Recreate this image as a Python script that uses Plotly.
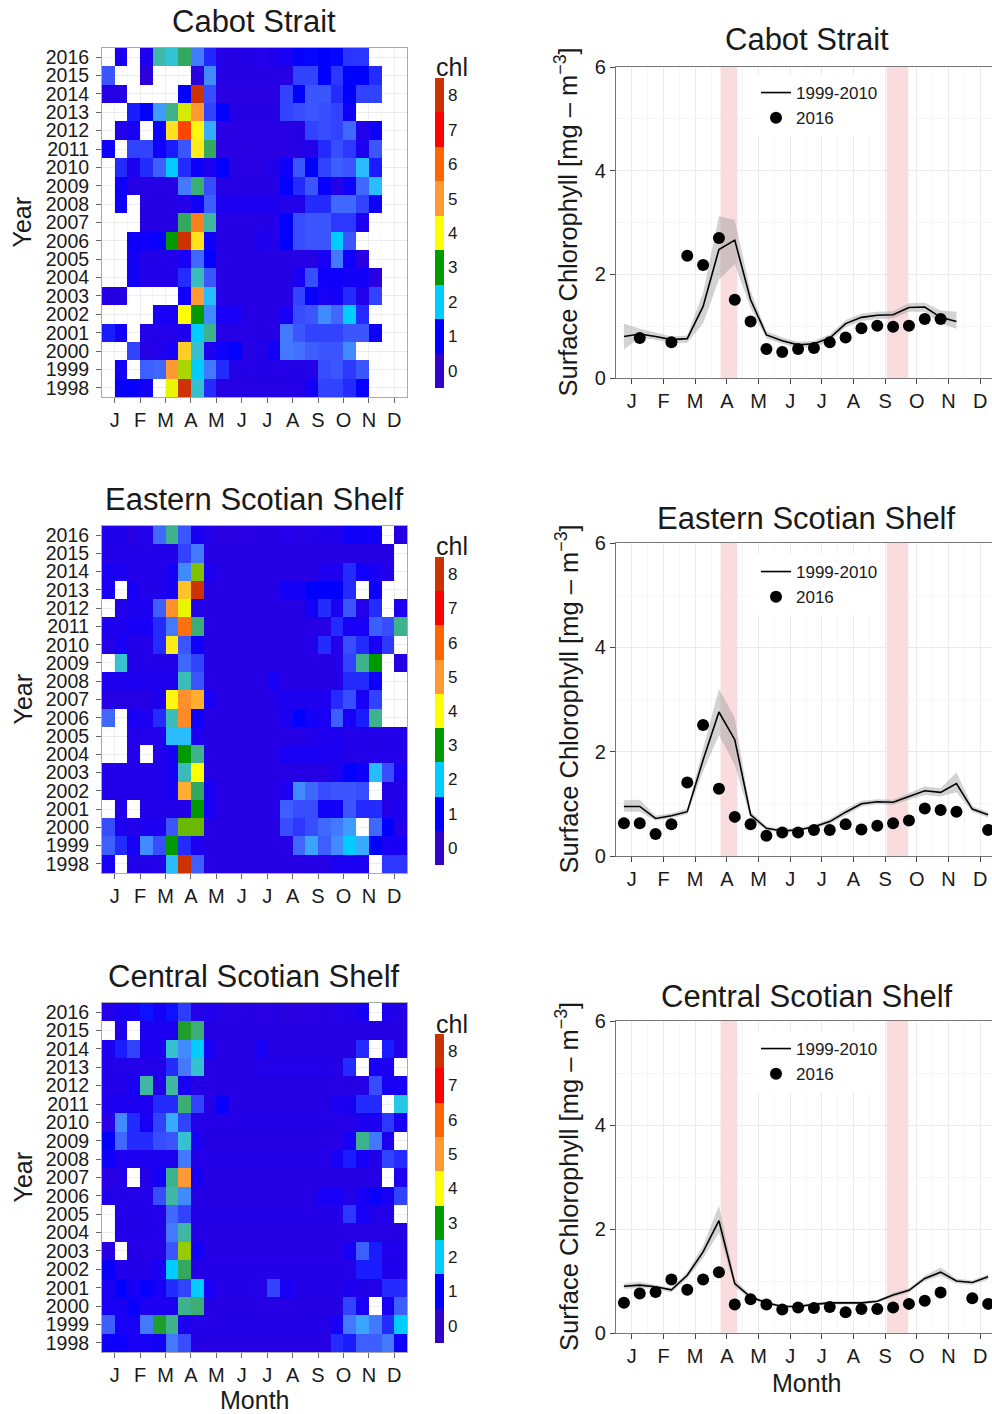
import numpy as np
import plotly.graph_objects as go

N = None
months = ["J", "F", "M", "A", "M", "J", "J", "A", "S", "O", "N", "D"]
month_ticks = list(range(1, 13))
years = list(range(1998, 2017))
# half-month bin centres (in months, tick "J" = 1)
bins = [0.75 + 0.5 * i for i in range(24)]
chl_ticks = list(range(0, 9))

# ---------------- Cabot Strait ----------------
cabot_2016 = [N, 0.77, N, 0.69, 2.36, 2.18, 2.70, 1.51, 1.09, 0.56, 0.50, 0.56, 0.58, 0.69, 0.78, 0.96,
              1.01, 0.99, 1.01, 1.14, 1.14, N, N, N]
cabot_years = [  # 1998 .. 2015
    [N, 0.95, 0.95, 0.85, N, 3.9, 8.0, 2.2, 1.1, 0.5, 0.5, 0.5, 0.5, 0.5, 0.5, 0.6, 0.85, 1.2, 1.2, 1.1, 0.95, N, N, N],
    [N, 0.85, N, 1.35, 1.4, 5.0, 3.6, 2.0, 1.5, 1.1, 0.55, 0.55, 0.55, 0.55, 0.55, 0.55, 0.6, 1.25, 1.3, 1.15, 1.3, N, N, N],
    [N, N, 1.2, 0.5, 0.6, 0.8, 4.5, 2.2, 0.7, 0.9, 1.0, 0.5, 0.6, 0.85, 1.5, 1.45, 1.35, 1.3, 1.3, 1.6, N, N, N, N],
    [1.05, 0.85, N, 0.6, 0.6, 0.6, 0.7, 2.0, 2.5, 0.5, 0.5, 0.5, 0.5, 0.5, 1.5, 1.3, 1.2, 1.2, 1.2, 1.3, 1.3, 0.9, N, N],
    [N, N, N, N, 0.8, 0.8, 4.0, 3.0, 1.6, 0.8, 0.8, 0.5, 0.5, 0.5, 0.8, 1.25, 1.3, 1.6, 1.4, 2.0, 1.1, N, N, N],
    [0.5, 0.5, N, N, N, N, 0.9, 5.0, 1.9, 0.5, 0.5, 0.5, 0.5, 0.5, 0.5, 1.2, 0.95, 0.8, 0.85, 1.1, 0.6, 1.2, N, N],
    [N, N, 0.85, 0.6, 0.6, 0.6, 1.1, 2.3, 1.3, 0.5, 0.5, 0.5, 0.5, 0.5, 0.5, 0.8, 1.25, 0.9, 0.9, 0.85, 0.85, 0.4, N, N],
    [N, N, 0.85, 0.6, 0.6, 0.6, 0.8, 1.4, 1.0, 0.5, 0.5, 0.5, 0.5, 0.5, 0.5, 0.5, 0.5, 0.8, 1.5, 0.9, 0.4, N, N, N],
    [N, N, 0.9, 0.9, 0.95, 3.0, 8.0, 4.3, 0.9, 0.5, 0.5, 0.5, 0.7, 0.6, 1.0, 1.25, 1.3, 1.3, 2.0, 1.3, N, N, N, N],
    [N, N, N, 0.5, 0.5, 0.5, 2.7, 5.5, 2.4, 0.5, 0.5, 0.5, 0.5, 0.6, 1.0, 1.25, 1.3, 1.3, 1.15, 1.15, 0.7, N, N, N],
    [N, 0.9, N, 0.5, 0.5, 0.5, 0.6, 0.9, 1.35, 0.7, 0.7, 0.7, 0.7, 0.7, 0.6, 0.6, 1.1, 1.1, 1.4, 1.4, 1.2, 0.9, N, N],
    [N, 0.9, 0.5, 0.5, 0.5, 0.5, 1.5, 2.6, 1.25, 0.5, 0.5, 0.5, 0.5, 0.5, 1.0, 1.1, 1.3, 0.95, 0.6, 0.9, 1.4, 1.9, N, N],
    [N, 1.1, 0.7, 1.1, 1.35, 2.0, 1.1, 0.9, 0.7, 1.0, 0.45, 0.45, 0.45, 0.6, 0.9, 1.3, 1.0, 1.2, 1.35, 1.3, 1.9, 1.05, N, N],
    [0.9, N, 1.2, 1.2, 0.9, 1.05, 1.3, 4.2, 2.7, 0.45, 0.45, 0.45, 0.45, 0.45, 0.45, 0.5, 0.6, 1.1, 1.25, 1.15, 0.7, 1.3, N, N],
    [N, 0.6, 0.8, N, 0.9, 4.3, 6.5, 4.1, 1.8, 0.45, 0.45, 0.45, 0.45, 0.45, 0.45, 0.5, 1.2, 1.25, 1.2, 1.4, 0.6, 0.9, N, N],
    [N, N, 1.05, 1.0, 1.7, 2.5, 3.8, 5.0, 1.2, 1.0, 0.5, 0.5, 0.5, 0.5, 1.2, 1.25, 1.3, 1.25, 1.2, 0.9, N, N, N, N],
    [0.5, 0.5, N, N, N, N, 1.0, 8.0, 1.25, 0.45, 0.45, 0.45, 0.45, 0.45, 1.2, 1.0, 1.3, 1.3, 1.1, 1.0, 1.2, 1.2, N, N],
    [1.3, N, N, 0.3, N, N, N, 0.4, 1.6, 0.5, 0.5, 0.5, 0.5, 0.5, 0.5, 1.2, 1.2, 1.0, 1.15, 1.0, 1.0, 1.1, N, N],
]
cabot_mean = [0.80, 0.85, 0.80, 0.74, 0.76, 1.38, 2.48, 2.66, 1.51, 0.83, 0.72, 0.64, 0.66, 0.77, 1.05, 1.17,
              1.21, 1.22, 1.36, 1.37, 1.17, 1.09, N, N]
cabot_lo = [0.55, 0.78, 0.74, 0.67, 0.68, 1.05, 1.90, 2.20, 1.35, 0.76, 0.66, 0.58, 0.60, 0.70, 0.98, 1.10,
            1.14, 1.15, 1.28, 1.28, 1.05, 0.95, N, N]
cabot_hi = [1.05, 0.95, 0.88, 0.80, 0.82, 1.65, 3.12, 3.05, 1.68, 0.90, 0.78, 0.70, 0.72, 0.84, 1.12, 1.24,
            1.28, 1.29, 1.44, 1.45, 1.30, 1.28, N, N]

# ---------------- Eastern Scotian Shelf ----------------
ess_2016 = [0.63, 0.63, 0.42, 0.61, 1.41, 2.51, 1.29, 0.75, 0.61, 0.39, 0.45, 0.45, 0.50, 0.50, 0.61, 0.51,
            0.58, 0.63, 0.68, 0.91, 0.88, 0.85, N, 0.50]
ess_years = [  # 1998 .. 2015
    [0.8, N, 0.6, 0.6, 0.6, 1.9, 8.0, 1.35, 0.5, 0.5, 0.5, 0.5, 0.5, 0.5, 0.5, 0.5, 0.5, 0.5, 0.7, 0.75, 0.7, N, 1.15, 1.15],
    [1.35, 1.1, 0.8, 1.6, 1.25, 3.0, 1.1, 0.7, 0.5, 0.5, 0.5, 0.5, 0.5, 0.5, 0.5, 1.4, 1.75, 1.35, 1.6, 2.0, 1.8, 1.0, 0.8, 0.8],
    [1.25, 0.7, 0.6, 0.7, 0.7, 1.3, 3.3, 3.3, 0.5, 0.5, 0.5, 0.5, 0.5, 0.5, 1.25, 1.15, 1.25, 1.4, 1.5, 1.7, N, 1.4, 1.0, 0.6],
    [N, 0.6, N, 0.6, 0.6, 0.6, 0.6, 3.0, 0.8, 0.5, 0.5, 0.5, 0.5, 0.6, 1.35, 1.25, 1.25, 0.85, 0.85, 1.3, 1.1, 1.1, 0.6, 0.7],
    [0.6, 0.6, 0.6, 0.6, 0.6, 0.8, 4.8, 2.7, 0.8, 0.5, 0.5, 0.5, 0.5, 0.5, 0.7, 1.6, 1.4, 1.25, 1.3, 1.3, 1.25, N, 0.6, 0.6],
    [0.6, 0.6, 0.6, 0.6, 0.6, 0.8, 2.3, 4.0, 0.5, 0.5, 0.5, 0.5, 0.5, 0.5, 0.5, 0.5, 0.5, 0.5, 0.7, 1.0, 0.9, 1.9, 1.25, 0.8],
    [N, N, 0.6, N, 0.6, 0.8, 3.0, 2.5, 0.5, 0.5, 0.5, 0.5, 0.5, 0.5, 0.75, 0.75, 0.75, 0.75, 0.7, 0.6, 0.6, 0.6, 0.6, 0.6],
    [N, N, 0.6, 0.6, 0.6, 1.9, 1.9, 0.7, 0.5, 0.5, 0.5, 0.5, 0.5, 0.5, 0.5, 0.5, 0.6, 0.7, 0.7, 0.6, 0.6, 0.6, 0.6, 0.6],
    [1.4, N, 0.8, 0.7, 1.1, 2.3, 5.3, 0.9, 0.5, 0.5, 0.5, 0.5, 0.5, 0.5, 0.75, 1.0, 0.85, 0.8, 1.35, 0.8, 1.05, 2.5, N, N],
    [0.5, 0.5, 0.5, 0.5, 0.7, 4.1, 5.2, 4.8, 0.8, 0.5, 0.5, 0.5, 0.5, 0.6, 0.7, 0.7, 0.7, 0.7, 1.1, 1.25, 0.8, 1.2, N, N],
    [0.7, 0.7, 0.7, 0.7, 0.7, 0.7, 2.3, 1.3, 0.5, 0.5, 0.5, 0.5, 0.5, 0.8, 0.5, 0.5, 0.5, 0.5, 0.6, 1.1, 1.1, 0.9, N, N],
    [N, 2.2, 0.6, 0.6, 0.6, 0.6, 1.4, 1.2, 0.5, 0.5, 0.5, 0.5, 0.5, 0.5, 0.5, 0.5, 0.5, 0.5, 0.6, 1.2, 2.5, 3.0, N, 0.5],
    [0.6, 0.8, 0.6, 0.6, 1.1, 4.2, 1.3, 0.9, 0.5, 0.5, 0.5, 0.5, 0.5, 0.5, 0.5, 0.5, 0.6, 1.1, 0.6, 1.25, 1.1, 0.8, 1.15, N],
    [0.7, 0.7, 0.8, 0.8, 1.1, 1.5, 5.8, 2.6, 0.5, 0.5, 0.5, 0.5, 0.5, 0.5, 0.5, 0.5, 0.5, 0.5, 1.1, 0.8, 0.8, 1.35, 1.25, 2.5],
    [N, 0.6, 0.7, 0.7, 1.35, 5.2, 3.9, 0.6, 0.5, 0.5, 0.5, 0.5, 0.5, 0.5, 0.5, 0.5, 0.85, 1.1, 0.7, 1.3, 0.6, 1.1, N, 0.7],
    [0.8, N, 0.8, 0.6, 0.6, 0.8, 4.6, 8.0, 0.5, 0.5, 0.5, 0.5, 0.5, 0.5, 0.85, 0.85, 1.0, 1.0, 1.0, 1.1, N, 0.9, N, N],
    [0.8, 0.7, 0.6, 0.6, 0.6, 0.8, 1.6, 3.4, 0.7, 0.5, 0.5, 0.5, 0.5, 0.5, 0.5, 0.5, 0.5, 0.7, 0.7, 1.1, 0.9, 0.8, 0.6, N],
    [0.6, 0.6, 0.6, 0.6, 0.6, 0.6, 1.2, 1.5, 0.5, 0.5, 0.5, 0.5, 0.5, 0.5, 0.5, 0.5, 0.5, 0.5, 0.5, 0.5, 0.5, 0.5, 0.5, N],
]
ess_mean = [0.95, 0.95, 0.72, 0.77, 0.85, 1.84, 2.76, 2.23, 0.79, 0.53, 0.48, 0.50, 0.56, 0.66, 0.84, 1.00,
            1.04, 1.03, 1.14, 1.25, 1.22, 1.39, 0.90, 0.79]
ess_lo = [0.85, 0.85, 0.68, 0.73, 0.80, 1.62, 2.32, 1.75, 0.72, 0.49, 0.45, 0.47, 0.52, 0.61, 0.78, 0.95,
          0.99, 0.98, 1.08, 1.17, 1.14, 1.22, 0.85, 0.74]
ess_hi = [1.07, 1.08, 0.77, 0.82, 0.91, 2.05, 3.20, 2.65, 0.86, 0.57, 0.52, 0.53, 0.60, 0.71, 0.90, 1.06,
          1.09, 1.08, 1.20, 1.33, 1.30, 1.60, 0.96, 0.84]

# ---------------- Central Scotian Shelf ----------------
css_2016 = [0.58, 0.76, 0.79, 1.03, 0.83, 1.03, 1.17, 0.55, 0.65, 0.55, 0.45, 0.49, 0.48, 0.50, 0.40, 0.46,
            0.46, 0.49, 0.56, 0.62, 0.78, N, 0.67, 0.56]
css_years = [  # 1998 .. 2015
    [0.9, 0.9, 0.8, 0.8, 0.85, 1.5, 1.25, 0.5, 0.5, 0.5, 0.5, 0.5, 0.5, 0.5, 0.5, 0.5, 0.5, 0.5, 1.1, 1.05, 1.35, 1.35, 1.5, 0.9],
    [1.35, 0.8, 0.8, 1.5, 2.9, 2.5, 0.7, 0.55, 0.55, 0.55, 0.55, 0.55, 0.55, 0.55, 0.55, 0.55, 0.55, 0.55, 0.8, 1.5, 1.75, 1.5, 1.1, 2.0],
    [0.8, 0.75, 0.95, 0.7, 0.7, 0.7, 2.5, 2.6, 0.5, 0.5, 0.5, 0.5, 0.5, 0.5, 0.5, 0.5, 0.5, 0.5, 0.5, 1.2, 0.8, N, 0.8, 1.35],
    [0.75, 1.0, 0.8, 0.95, 0.8, 1.1, 1.2, 2.0, 0.8, 0.55, 0.55, 0.55, 0.55, 1.2, 0.8, 0.55, 0.55, 0.55, 0.55, 0.7, 0.6, 0.6, 1.1, 1.1],
    [0.95, 0.6, 0.6, 0.6, 0.75, 2.0, 2.7, 0.55, 0.55, 0.55, 0.55, 0.55, 0.55, 0.55, 0.55, 0.55, 0.55, 0.55, 0.55, 0.55, 1.05, 1.05, 0.65, 0.65],
    [0.45, N, 0.55, 0.55, 0.55, 1.3, 3.5, 0.85, 0.5, 0.5, 0.5, 0.5, 0.5, 0.5, 0.5, 0.5, 0.5, 0.5, 0.5, 0.8, 1.35, 1.05, 0.65, 0.65],
    [N, 0.6, 0.6, 0.6, 0.6, 1.5, 2.4, 0.5, 0.5, 0.5, 0.5, 0.5, 0.5, 0.5, 0.5, 0.5, 0.5, 0.5, 0.5, 0.5, 0.5, 0.5, 0.5, 0.5],
    [N, 0.6, 0.6, 0.6, 0.6, 1.4, 1.2, 0.55, 0.55, 0.55, 0.55, 0.55, 0.55, 0.55, 0.55, 0.55, 0.55, 0.55, 0.55, 1.15, 0.8, 0.6, 0.6, N],
    [0.6, 0.6, 0.6, 0.6, 1.25, 2.4, 1.6, 0.5, 0.5, 0.5, 0.5, 0.5, 0.5, 0.5, 0.5, 0.5, 0.5, 0.8, 0.8, 0.6, 0.8, 0.95, 0.8, 1.2],
    [0.45, 0.6, N, 0.6, 0.85, 2.5, 5.0, 0.75, 0.5, 0.5, 0.5, 0.5, 0.5, 0.5, 0.5, 0.5, 0.5, 0.5, 0.5, 0.5, 0.5, 0.5, N, 0.7],
    [0.9, 0.7, 0.7, 0.7, 0.7, 0.7, 1.5, 0.55, 0.55, 0.55, 0.55, 0.55, 0.55, 0.55, 0.55, 0.55, 0.55, 0.55, 0.8, 1.05, 0.8, 0.6, 1.2, 1.1],
    [1.0, 1.4, 1.1, 1.1, 1.25, 1.3, 2.2, 0.75, 0.5, 0.5, 0.5, 0.5, 0.5, 0.5, 0.5, 0.5, 0.5, 0.5, 0.5, 0.8, 2.5, 1.5, 0.7, N],
    [0.45, 1.6, 1.1, 0.8, 1.2, 1.8, 1.2, 0.55, 0.55, 0.55, 0.55, 0.55, 0.55, 0.55, 0.55, 0.55, 0.55, 0.55, 0.55, 0.55, 0.7, 0.7, 1.15, 0.8],
    [0.7, 0.75, 0.7, 0.7, 1.1, 1.1, 2.6, 1.2, 0.5, 0.95, 0.5, 0.5, 0.5, 0.5, 0.5, 0.5, 0.5, 0.5, 0.7, 0.75, 1.1, 1.1, N, 2.1],
    [0.6, 0.6, 0.75, 2.4, 0.6, 2.4, 0.8, 0.5, 0.5, 0.5, 0.5, 0.5, 0.5, 0.5, 0.5, 0.5, 0.5, 0.5, 0.5, 0.5, 0.5, 1.25, 0.8, 0.8],
    [0.6, 0.6, 0.6, 0.6, 0.6, 1.1, 1.5, 2.2, 0.5, 0.5, 0.5, 0.5, 0.6, 0.6, 0.6, 0.6, 0.6, 0.6, 0.5, 1.1, N, 0.8, 0.7, N],
    [0.7, 1.05, 1.2, 0.7, 0.7, 2.2, 1.6, 2.0, 0.8, 0.5, 0.5, 0.5, 0.8, 0.5, 0.5, 0.5, 0.5, 0.5, 0.5, 0.5, 1.1, N, 1.05, 0.6],
    [N, 0.6, N, 0.7, 0.7, 0.7, 2.9, 2.6, 0.5, 0.5, 0.5, 0.5, 0.5, 0.5, 0.5, 0.5, 0.5, 0.5, 0.5, 0.5, 0.5, 0.5, 0.5, 0.5],
]
css_mean = [0.90, 0.92, 0.89, 0.83, 1.11, 1.56, 2.16, 0.95, 0.69, 0.58, 0.51, 0.51, 0.55, 0.58, 0.58, 0.58,
            0.61, 0.73, 0.82, 1.05, 1.17, 1.00, 0.97, 1.08]
css_lo = [0.85, 0.86, 0.85, 0.78, 1.05, 1.44, 1.93, 0.88, 0.65, 0.55, 0.48, 0.48, 0.52, 0.55, 0.55, 0.55,
          0.58, 0.69, 0.78, 1.00, 1.10, 0.95, 0.93, 1.03]
css_hi = [0.95, 0.98, 0.93, 0.86, 1.18, 1.68, 2.45, 1.03, 0.73, 0.61, 0.54, 0.54, 0.58, 0.61, 0.61, 0.61,
          0.64, 0.77, 0.86, 1.10, 1.26, 1.05, 1.01, 1.13]

regions = [
    ("Cabot Strait", cabot_years, cabot_2016, cabot_mean, cabot_lo, cabot_hi),
    ("Eastern Scotian Shelf", ess_years, ess_2016, ess_mean, ess_lo, ess_hi),
    ("Central Scotian Shelf", css_years, css_2016, css_mean, css_lo, css_hi),
]

# ---------------- colour scale (Lab interpolation like ggplot) ----------------
anchor_cols = ["#3300CC", "#0000FF", "#00CCFF", "#009900", "#FFFF00", "#FF9933", "#FF6600", "#FF0000", "#CC3300"]


def hex2rgb(h):
    h = h.lstrip("#")
    return np.array([int(h[i:i + 2], 16) for i in (0, 2, 4)], float) / 255.0


M = np.array([[0.4124, 0.3576, 0.1805], [0.2126, 0.7152, 0.0722], [0.0193, 0.1192, 0.9505]])
Minv = np.linalg.inv(M)
WHITE = np.array([0.95047, 1.0, 1.08883])


def rgb2lab(c):
    lin = np.where(c <= 0.04045, c / 12.92, ((c + 0.055) / 1.055) ** 2.4)
    xyz = M @ lin / WHITE
    d = 6 / 29
    f = np.where(xyz > d ** 3, np.cbrt(xyz), xyz / (3 * d * d) + 4 / 29)
    return np.array([116 * f[1] - 16, 500 * (f[0] - f[1]), 200 * (f[1] - f[2])])


def lab2rgb(lab):
    L, a, b = lab
    fy = (L + 16) / 116
    fx = fy + a / 500
    fz = fy - b / 200
    d = 6 / 29
    f = np.array([fx, fy, fz])
    xyz = np.where(f > d, f ** 3, 3 * d * d * (f - 4 / 29)) * WHITE
    lin = np.clip(Minv @ xyz, 0, 1)
    c = np.where(lin <= 0.0031308, 12.92 * lin, 1.055 * lin ** (1 / 2.4) - 0.055)
    c = np.clip(c, 0, 1)
    return "rgb(%d,%d,%d)" % tuple(np.round(c * 255).astype(int))


labs = [rgb2lab(hex2rgb(c)) for c in anchor_cols]
ZMIN, ZMAX = -0.5, 8.5
smooth_scale = []
for v in np.linspace(ZMIN, ZMAX, 181):
    vv = min(max(v, 0.0), 8.0)
    k = min(int(np.floor(vv)), 7)
    t = vv - k
    smooth_scale.append([(v - ZMIN) / (ZMAX - ZMIN), lab2rgb(labs[k] * (1 - t) + labs[k + 1] * t)])
step_scale = []
for k, c in enumerate(anchor_cols):
    step_scale.append([k / 9, c])
    step_scale.append([(k + 1) / 9, c])

# ---------------- layout geometry ----------------
W, H = 992, 1414


def X(px):
    return px / W


def Y(py):
    return 1 - py / H


FONT = "Liberation Sans, Arial, sans-serif"
TXT = "#1a1a1a"
heat_rows = [(48, 397), (526, 873), (1003, 1352)]
line_rows = [(67, 378), (543, 856), (1021, 1333)]
heat_title_y = [22, 499, 976]
line_title_y = [40, 518, 996]
cbar_rows = [(78, 388, 67), (557, 865, 546), (1034, 1343, 1024)]
legend_top = [75, 554, 1031]
HX0, HX1 = 102, 407
LX0 = 616
px_per_month = 31.67
line_xmax = 0.5 + (W - LX0) / px_per_month

fig = go.Figure()
annotations = []
shapes = []
layout_axes = {}

for r, (name, hist, y2016, mean, lo, hi) in enumerate(regions):
    hx = "x%d" % (r + 1) if r else "x"
    hy = "y%d" % (r + 1) if r else "y"
    lx = "x%d" % (r + 4)
    ly = "y%d" % (r + 4)
    leg = "legend" if r == 0 else "legend%d" % (r + 1)

    z = hist + [y2016]
    fig.add_trace(go.Heatmap(z=z, x=bins, y=years, xaxis=hx, yaxis=hy, colorscale=smooth_scale,
                             zmin=ZMIN, zmax=ZMAX, showscale=False, hoverongaps=False))
    # colour key (stepped like the reference key)
    cb_top, cb_bot, chl_y = cbar_rows[r]
    fig.add_trace(go.Scatter(x=[None], y=[None], xaxis=hx, yaxis=hy, mode="markers", showlegend=False,
                             marker=dict(color=[0], colorscale=step_scale, cmin=ZMIN, cmax=ZMAX, showscale=True,
                                         colorbar=dict(x=X(435), xanchor="left", xpad=0, ypad=0,
                                                       y=Y((cb_top + cb_bot) / 2), yanchor="middle",
                                                       len=cb_bot - cb_top, lenmode="pixels",
                                                       thickness=9, thicknessmode="pixels",
                                                       outlinewidth=0, tickvals=chl_ticks, ticks="",
                                                       tickfont=dict(family=FONT, size=17, color=TXT)))))
    annotations.append(dict(text="chl", x=X(434), y=Y(chl_y), xref="paper", yref="paper", xanchor="left",
                            yanchor="middle", showarrow=False, font=dict(family=FONT, size=25, color=TXT)))

    # right panel: ribbon, mean line, 2016 points
    idx = [i for i, v in enumerate(mean) if v is not None]
    bx = [bins[i] for i in idx]
    fig.add_trace(go.Scatter(x=bx, y=[lo[i] for i in idx], xaxis=lx, yaxis=ly, mode="lines", legend=leg,
                             line=dict(width=0), showlegend=False, hoverinfo="skip"))
    fig.add_trace(go.Scatter(x=bx, y=[hi[i] for i in idx], xaxis=lx, yaxis=ly, mode="lines", legend=leg,
                             line=dict(width=0), fill="tonexty", fillcolor="rgba(150,150,150,0.42)",
                             showlegend=False, hoverinfo="skip"))
    fig.add_trace(go.Scatter(x=bx, y=[mean[i] for i in idx], xaxis=lx, yaxis=ly, mode="lines",
                             line=dict(color="black", width=1.6), name="1999-2010", legend=leg))
    pidx = [i for i, v in enumerate(y2016) if v is not None]
    fig.add_trace(go.Scatter(x=[bins[i] for i in pidx], y=[y2016[i] for i in pidx], xaxis=lx, yaxis=ly,
                             mode="markers", marker=dict(color="black", size=12), name="2016", legend=leg))

    # spring / fall shaded windows
    for x0, x1 in [(3.80, 4.33), (9.05, 9.73)]:
        shapes.append(dict(type="rect", xref=lx, yref=ly, x0=x0, x1=x1, y0=0, y1=6,
                           fillcolor="#F9DCDD", line=dict(width=0), layer="between"))

    ht, hb = heat_rows[r]
    lt, lb = line_rows[r]
    tickfont = dict(family=FONT, size=20, color=TXT)
    hxname = "xaxis" if r == 0 else "xaxis%d" % (r + 1)
    hyname = "yaxis" if r == 0 else "yaxis%d" % (r + 1)
    layout_axes[hxname] = dict(domain=[X(HX0), X(HX1)], anchor=hy, range=[0.5, 12.5], tickmode="array",
                               tickvals=month_ticks, ticktext=months, ticks="outside", ticklen=5,
                               tickcolor="#666", tickfont=tickfont, showline=True, linecolor="#aaa",
                               mirror=True, showgrid=True, gridcolor="#EDEDED", zeroline=False,
                               automargin=False,
                               minor=dict(tickmode="array", tickvals=[m + 0.5 for m in range(1, 12)],
                                          showgrid=True, gridcolor="#F7F7F7"))
    layout_axes[hyname] = dict(domain=[Y(hb), Y(ht)], anchor=hx, range=[1997.5, 2016.5], tickmode="array",
                               tickvals=years, ticktext=[str(v) for v in years], ticks="outside", ticklen=5,
                               tickcolor="#666", tickfont=dict(family=FONT, size=19.5, color=TXT),
                               ticklabelstandoff=3, showline=True, linecolor="#aaa",
                               mirror=True, showgrid=True, gridcolor="#EDEDED", zeroline=False,
                               automargin=False)
    layout_axes["xaxis%d" % (r + 4)] = dict(domain=[X(LX0), 1.0], anchor=ly, range=[0.5, line_xmax],
                                            tickmode="array", tickvals=month_ticks, ticktext=months,
                                            ticks="outside", ticklen=5, tickcolor="#444", tickfont=tickfont,
                                            showline=True, linecolor="#777", linewidth=1.2, mirror=True,
                                            showgrid=True, gridcolor="#EBEBEB", zeroline=False,
                                            automargin=False,
                                            minor=dict(tickmode="array",
                                                       tickvals=[m + 0.5 for m in range(0, 13)],
                                                       showgrid=True, gridcolor="#F6F6F6"))
    layout_axes["yaxis%d" % (r + 4)] = dict(domain=[Y(lb), Y(lt)], anchor=lx, range=[0, 6], tickmode="array",
                                            tickvals=[0, 2, 4, 6], ticks="outside", ticklen=5, tickcolor="#444",
                                            tickfont=tickfont, showline=True, linecolor="#777", linewidth=1.2,
                                            showgrid=True, gridcolor="#EBEBEB", zeroline=False,
                                            automargin=False,
                                            minor=dict(tickmode="array", tickvals=[1, 3, 5], showgrid=True,
                                                       gridcolor="#F6F6F6"))
    layout_axes[leg] = dict(x=X(756), y=Y(legend_top[r]), xanchor="left", yanchor="top", bgcolor="white",
                            borderwidth=0, font=dict(family=FONT, size=17, color=TXT), tracegroupgap=2,
                            traceorder="normal")

    # titles and axis titles
    annotations.append(dict(text=name, x=X((HX0 + HX1) / 2), y=Y(heat_title_y[r]), xref="paper", yref="paper",
                            showarrow=False, xanchor="center", yanchor="middle",
                            font=dict(family=FONT, size=31, color=TXT)))
    annotations.append(dict(text=name, x=X((LX0 + 997) / 2), y=Y(line_title_y[r]), xref="paper", yref="paper",
                            showarrow=False, xanchor="center", yanchor="middle",
                            font=dict(family=FONT, size=31, color=TXT)))
    annotations.append(dict(text="Year", x=X(22), y=Y((ht + hb) / 2), xref="paper", yref="paper",
                            showarrow=False, textangle=-90, xanchor="center", yanchor="middle",
                            font=dict(family=FONT, size=25, color=TXT)))
    annotations.append(dict(text="Surface Chlorophyll [mg \u2013 m<sup>\u22123</sup>]", x=X(567),
                            y=Y((lt + lb) / 2), xref="paper", yref="paper", showarrow=False, textangle=-90,
                            xanchor="center", yanchor="middle", font=dict(family=FONT, size=25.5, color=TXT)))

annotations.append(dict(text="Month", x=X((HX0 + HX1) / 2), y=Y(1400), xref="paper", yref="paper",
                        showarrow=False, xanchor="center", yanchor="middle", font=dict(family=FONT, size=25, color=TXT)))
annotations.append(dict(text="Month", x=X((LX0 + 997) / 2), y=Y(1383), xref="paper", yref="paper",
                        showarrow=False, xanchor="center", yanchor="middle", font=dict(family=FONT, size=25, color=TXT)))

fig.update_layout(width=W, height=H, autosize=False,
                  margin=dict(l=0, r=0, t=0, b=0, pad=0, autoexpand=False), paper_bgcolor="white",
                  plot_bgcolor="white", annotations=annotations, shapes=shapes, showlegend=True,
                  font=dict(family=FONT, color=TXT), **layout_axes)

fig.write_html("out.html")
